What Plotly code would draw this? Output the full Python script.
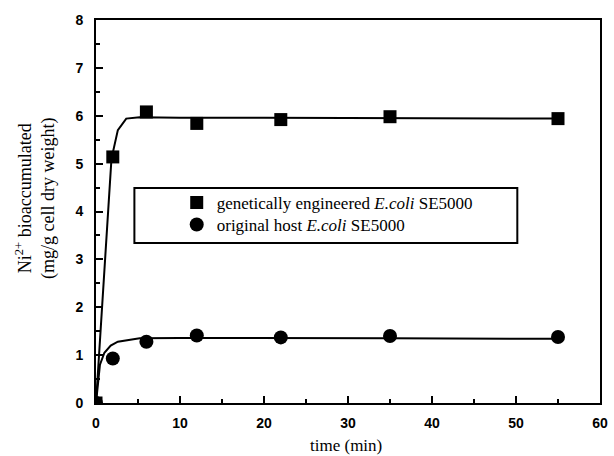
import plotly.graph_objects as go

time_pts = [0, 2, 6, 12, 22, 35, 55]
engineered = [0, 5.14, 6.08, 5.84, 5.92, 5.98, 5.94]
host = [0, 0.93, 1.28, 1.41, 1.37, 1.40, 1.38]

fit_t = [0, 1.84, 2.6, 3.6, 5.2, 10, 20, 35, 55]
fit_engineered = [0, 5.1, 5.7, 5.94, 5.97, 5.96, 5.96, 5.95, 5.94]
fit_t_host = [0, 0.47, 1.0, 1.75, 2.6, 5.2, 10, 20, 35, 55]
fit_host = [0, 0.8, 1.05, 1.2, 1.28, 1.35, 1.36, 1.36, 1.35, 1.34]

x_ticks = [0, 10, 20, 30, 40, 50, 60]
y_ticks = [0, 1, 2, 3, 4, 5, 6, 7, 8]

W, H = 614, 456
ml, mr, mt, mb = 96, 6, 20, 53
pw, ph = W - ml - mr, H - mt - mb

def px_x(p):
    return (p - ml) / pw

def px_y(p):
    return (H - mb - p) / ph

legend_font = dict(family="Liberation Serif", size=17, color="black")

fig = go.Figure()
fig.add_trace(go.Scatter(x=fit_t, y=fit_engineered, mode="lines",
                         line=dict(color="black", width=2), showlegend=False))
fig.add_trace(go.Scatter(x=fit_t_host, y=fit_host, mode="lines",
                         line=dict(color="black", width=2), showlegend=False))
fig.add_trace(go.Scatter(x=time_pts, y=engineered, mode="markers",
                         marker=dict(symbol="square", size=13, color="black"),
                         name="genetically engineered <i>E.coli</i> SE5000", legend="legend"))
fig.add_trace(go.Scatter(x=time_pts, y=host, mode="markers",
                         marker=dict(symbol="circle", size=14, color="black"),
                         name="original host <i>E.coli</i> SE5000", legend="legend2"))

tickfont = dict(family="Liberation Sans", size=14, color="black")

fig.update_layout(
    width=W, height=H,
    margin=dict(l=ml, r=mr, t=mt, b=mb),
    paper_bgcolor="white", plot_bgcolor="white",
    showlegend=True,
    legend=dict(x=px_x(178), y=px_y(203), xanchor="left", yanchor="middle",
                bgcolor="rgba(0,0,0,0)", borderwidth=0, font=legend_font),
    legend2=dict(x=px_x(178), y=px_y(225), xanchor="left", yanchor="middle",
                 bgcolor="rgba(0,0,0,0)", borderwidth=0, font=legend_font),
    xaxis=dict(range=[0, 60], tickvals=x_ticks, ticktext=[f"<b>{v}</b>" for v in x_ticks],
               ticks="inside", ticklen=7, tickwidth=2, tickcolor="black",
               minor=dict(tickvals=[5, 15, 25, 35, 45, 55], ticks="inside", ticklen=4, tickwidth=2, tickcolor="black"),
               showline=True, linewidth=2, linecolor="black", mirror=True,
               showgrid=False, zeroline=False, ticklabelstandoff=6,
               tickfont=tickfont),
    yaxis=dict(range=[0, 8], tickvals=y_ticks, ticktext=[f"<b>{v}</b>" for v in y_ticks],
               ticks="inside", ticklen=7, tickwidth=2, tickcolor="black",
               minor=dict(tickvals=[0.5 + i for i in range(8)], ticks="inside", ticklen=4, tickwidth=2, tickcolor="black"),
               showline=True, linewidth=2, linecolor="black", mirror=True,
               showgrid=False, zeroline=False, ticklabelstandoff=8,
               tickfont=tickfont),
    shapes=[dict(type="rect", xref="paper", yref="paper",
                 x0=px_x(135), x1=px_x(524), y0=px_y(243), y1=px_y(188),
                 line=dict(color="black", width=2), fillcolor="rgba(0,0,0,0)")],
    annotations=[
        dict(text="Ni<sup>2+</sup> bioaccumulated<br>(mg/g cell dry weight)",
             xref="paper", yref="paper", x=px_x(34), y=px_y(198),
             xanchor="center", yanchor="middle", textangle=-90, showarrow=False,
             font=dict(family="Liberation Serif", size=18, color="black")),
        dict(text="time (min)", xref="paper", yref="paper", x=px_x(350), y=px_y(445),
             xanchor="center", yanchor="middle", showarrow=False,
             font=dict(family="Liberation Serif", size=17, color="black")),
    ],
)

fig.write_html("out.html")
